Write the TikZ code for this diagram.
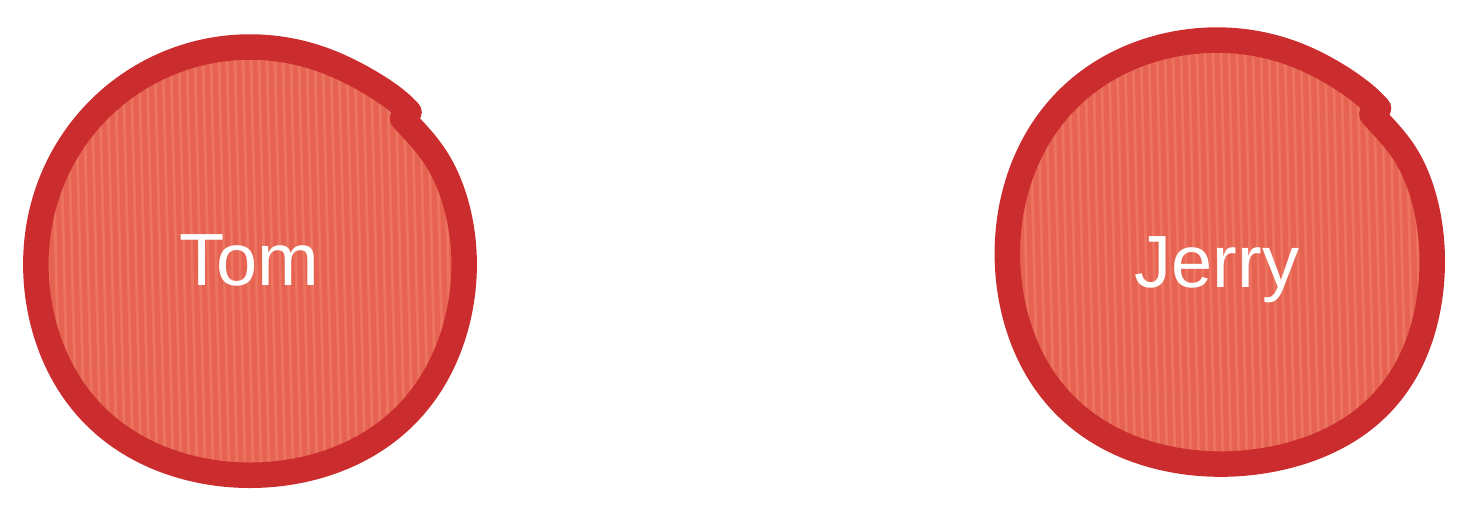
\documentclass[tikz,border=0pt]{standalone}
\usepackage{fontspec}
\setmainfont{Liberation Sans}
\definecolor{strokered}{RGB}{203,45,46}
\definecolor{fillbase}{RGB}{229,99,80}
\definecolor{fillstripe}{RGB}{236,115,96}
\tikzset{
  roughstroke/.style={draw=strokered, line width=25.5pt, line cap=round, line join=round},
  stripe/.style={draw=fillstripe, line width=3pt},
  namelabel/.style={text=white, font=\fontsize{74}{80}\selectfont, inner sep=0pt, anchor=base},
}
% outer-edge radius functions (angle in degrees, counter-clockwise as seen)
\newcommand{\tomR}[1]{(226+6*exp(-(((#1)-225)/30)^2)+6*exp(-(((#1)-315)/30)^2))}
\newcommand{\jerR}[1]{(223.5+4*exp(-(((#1)-135)/30)^2)+7*exp(-(((#1)-225)/30)^2)+11*exp(-(((#1)-318)/30)^2))}
\begin{document}
\begin{tikzpicture}[x=1pt,y=-1pt]
\useasboundingbox (0,0) rectangle (1468,516);

% ---------- Tom ----------
\begin{scope}
  \clip plot[variable=\t, domain=0:360, samples=121, smooth cycle]
    ({250+(\tomR{\t}-22)*cos(\t)}, {260.5-(\tomR{\t}-22)*sin(\t)});
  \fill[fillbase] (10,10) rectangle (500,510);
  \foreach \i in {-32,...,32} \draw[stripe] ({250+8*\i},20) -- ({262+8*\i},505);
\end{scope}
\draw[roughstroke] plot[variable=\t, domain=43:403, samples=121, smooth]
  ({250+(\tomR{\t}-12.5+4*exp(-((\t-43)/12)^2)-5*exp(-((\t-403)/12)^2))*cos(\t)},
   {260.5-(\tomR{\t}-12.5+4*exp(-((\t-43)/12)^2)-5*exp(-((\t-403)/12)^2))*sin(\t)});
\node[namelabel] (tom) at (249,285) {Tom};

% ---------- Jerry ----------
\begin{scope}
  \clip plot[variable=\t, domain=0:360, samples=121, smooth cycle]
    ({1219.5+(\jerR{\t}-22)*cos(\t)}, {251.5-(\jerR{\t}-22)*sin(\t)});
  \fill[fillbase] (980,10) rectangle (1465,510);
  \foreach \i in {-32,...,32} \draw[stripe] ({1220+8*\i},15) -- ({1232+8*\i},500);
\end{scope}
\draw[roughstroke] plot[variable=\t, domain=42:402, samples=121, smooth]
  ({1219.5+(\jerR{\t}-12.5+3*exp(-((\t-42)/12)^2)-6*exp(-((\t-402)/12)^2))*cos(\t)},
   {251.5-(\jerR{\t}-12.5+3*exp(-((\t-42)/12)^2)-6*exp(-((\t-402)/12)^2))*sin(\t)});
\node[namelabel] (jerry) at (1217,287) {Jerry};
\end{tikzpicture}
\end{document}
